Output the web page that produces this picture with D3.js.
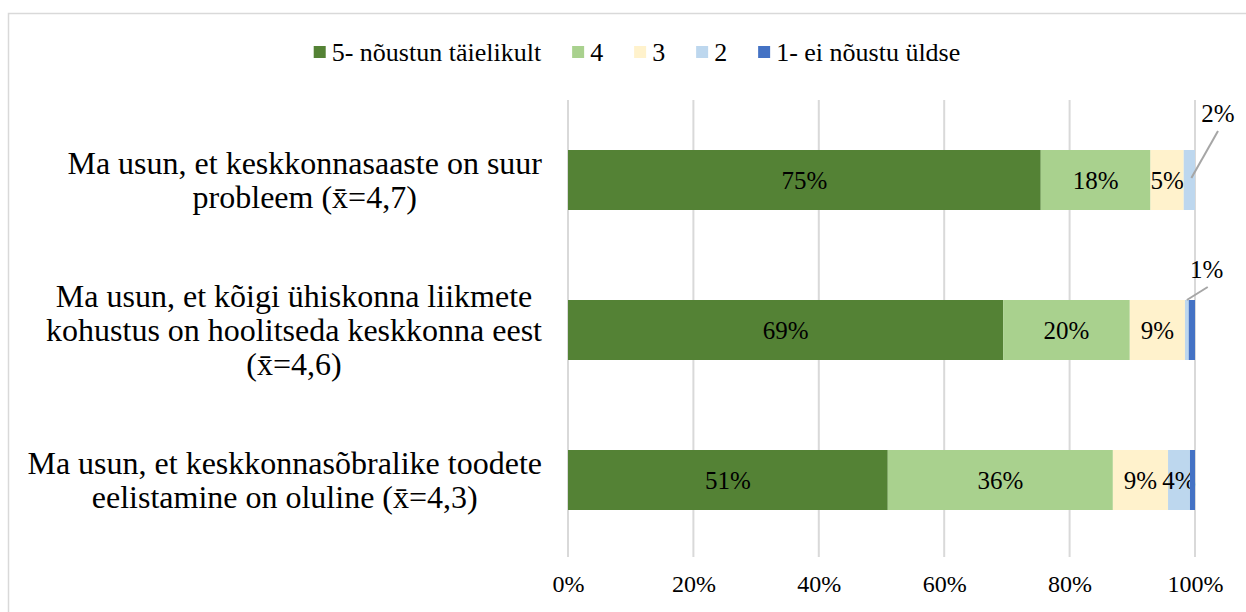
<!DOCTYPE html>
<html>
<head>
<meta charset="utf-8">
<script src="https://cdn.jsdelivr.net/npm/d3@7"></script>
<style>
  body { margin: 0; background: #fff; }
  text { font-family: "Liberation Serif", "Times New Roman", serif; fill: #000; }
</style>
</head>
<body>
<svg width="1246" height="612"></svg>
<script>
var categories = [
  ["Ma usun, et keskkonnasaaste on suur", "probleem (x\u0304=4,7)"],
  ["Ma usun, et kõigi ühiskonna liikmete", "kohustus on hoolitseda keskkonna eest", "(x\u0304=4,6)"],
  ["Ma usun, et keskkonnasõbralike toodete", "eelistamine on oluline (x\u0304=4,3)"]
];
var keys = ["5", "4", "3", "2", "1"];
var seriesNames = ["5- nõustun täielikult", "4", "3", "2", "1- ei nõustu üldse"];
var colors = ["#548235", "#a9d18e", "#fff2cc", "#bdd7ee", "#4472c4"];
var v5 = [75.4, 69.4, 51.0];
var v4 = [17.5, 20.2, 35.9];
var v3 = [5.3, 8.8, 8.8];
var v2 = [1.8, 0.6, 3.5];
var v1 = [0.0, 1.0, 0.8];
var xTicks = [0, 20, 40, 60, 80, 100];
// small segments labelled outside with a leader line
var callouts = [{row: 0, key: "2"}, {row: 1, key: "2"}];

var svg = d3.select("svg");

var data = categories.map(function(c, i) {
  return {id: i, lines: c, "5": v5[i], "4": v4[i], "3": v3[i], "2": v2[i], "1": v1[i]};
});

var x = d3.scaleLinear().domain([0, 100]).range([568, 1195]);
var y = d3.scaleBand()
  .domain(data.map(function(d) { return d.id; }))
  .range([105, 555])
  .paddingInner(0.6)
  .paddingOuter(0.3);

var color = d3.scaleOrdinal().domain(keys).range(colors);
var series = d3.stack().keys(keys)(data);

// chart frame
svg.append("rect")
  .attr("x", 8.5).attr("y", 13.5)
  .attr("width", 1260).attr("height", 640)
  .attr("fill", "none")
  .attr("stroke", "#d9d9d9")
  .attr("stroke-width", 1.5);

// gridlines
svg.append("g")
  .selectAll("line")
  .data(xTicks)
  .enter().append("line")
    .attr("x1", function(d) { return x(d); })
    .attr("x2", function(d) { return x(d); })
    .attr("y1", 100)
    .attr("y2", 557)
    .attr("stroke", "#d9d9d9")
    .attr("stroke-width", 2);

// x axis labels
var xAxis = svg.append("g")
  .attr("transform", "translate(0,565)")
  .call(d3.axisBottom(x).tickValues(xTicks).tickSize(0).tickPadding(0)
    .tickFormat(function(d) { return d + "%"; }));
xAxis.select(".domain").remove();
xAxis.selectAll("text")
  .attr("dy", "0")
  .attr("y", 27)
  .style("font-size", "24px")
  .style("font-family", "Liberation Serif");

// bars
var layers = svg.append("g")
  .selectAll("g")
  .data(series)
  .enter().append("g")
    .attr("fill", function(d) { return color(d.key); });

layers.selectAll("rect")
  .data(function(d) { return d; })
  .enter().append("rect")
    .attr("x", function(d) { return x(d[0]); })
    .attr("y", function(d) { return y(d.data.id); })
    .attr("width", function(d) { return x(d[1]) - x(d[0]); })
    .attr("height", y.bandwidth());

// inside labels
layers.selectAll("text")
  .data(function(d) { return d.filter(function(p) { return p[1] - p[0] >= 3; }); })
  .enter().append("text")
    .attr("x", function(d) { return (x(d[0]) + x(d[1])) / 2; })
    .attr("y", function(d) { return y(d.data.id) + y.bandwidth() / 2; })
    .attr("dy", "0.35em")
    .attr("text-anchor", "middle")
    .style("font-size", "25px")
    .text(function(d) { return Math.round(d[1] - d[0]) + "%"; });

// callout labels
var co = svg.append("g").selectAll("g")
  .data(callouts.map(function(c) {
    var s = series[keys.indexOf(c.key)][c.row];
    return {row: c.row, s: s};
  }))
  .enter().append("g");

co.append("line")
  .attr("x1", function(d) { return x((d.s[0] + d.s[1]) / 2) + (d.row === 0 ? 2 : 0); })
  .attr("y1", function(d) { return y(d.row) + (d.row === 0 ? 28 : 0); })
  .attr("x2", function(d) { return x(d.s[1]) + (d.row === 0 ? 23 : 19); })
  .attr("y2", function(d) { return y(d.row) - (d.row === 0 ? 19 : 13); })
  .attr("stroke", "#a6a6a6")
  .attr("stroke-width", 2);

co.append("text")
  .attr("x", function(d) { return x(d.s[1]) + (d.row === 0 ? 23 : 18); })
  .attr("y", function(d) { return y(d.row) - (d.row === 0 ? 28 : 22); })
  .attr("text-anchor", "middle")
  .style("font-size", "25px")
  .text(function(d) { return Math.round(d.s[1] - d.s[0]) + "%"; });

// category labels: centred lines, block right-aligned to the plot
var cat = svg.append("g").selectAll("text")
  .data(data)
  .enter().append("text")
    .attr("text-anchor", "middle")
    .style("font-size", "32px")
    .attr("y", function(d) {
      return y(d.id) + y.bandwidth() / 2 - (d.lines.length - 1) * 34 / 2;
    });

cat.selectAll("tspan")
  .data(function(d) { return d.lines; })
  .enter().append("tspan")
    .attr("dy", function(d, i) { return i === 0 ? "0.35em" : "34px"; })
    .text(function(d) { return d; });

cat.each(function() {
  var t = d3.select(this);
  var w = d3.max(t.selectAll("tspan").nodes(), function(n) { return n.getComputedTextLength(); });
  t.selectAll("tspan").attr("x", 542 - w / 2);
});

// legend
var legend = svg.append("g");
var lx = 0;
var items = legend.selectAll("g")
  .data(keys)
  .enter().append("g");

items.append("rect")
  .attr("width", 12).attr("height", 12)
  .attr("y", -6)
  .attr("fill", function(d) { return color(d); });

items.append("text")
  .attr("x", 18)
  .attr("dy", "0.35em")
  .style("font-size", "26px")
  .text(function(d, i) { return seriesNames[i]; });

items.each(function() {
  var g = d3.select(this);
  g.attr("transform", "translate(" + lx + ",0)");
  lx += 18 + g.select("text").node().getComputedTextLength() + 31;
});
var legendWidth = lx - 31;
legend.attr("transform", "translate(" + (637 - legendWidth / 2) + ",52)");
</script>
</body>
</html>
